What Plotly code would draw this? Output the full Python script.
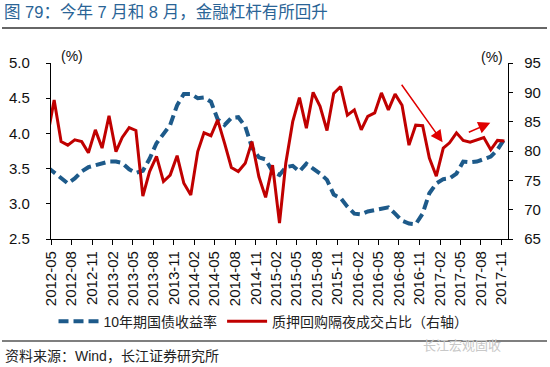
import plotly.graph_objects as go

# Monthly observations (plotted mid-month), 2012-04 .. 2017-11
dates = [f"{y}-{m:02d}-15" for y in range(2012, 2018) for m in range(1, 13)
         if (y, m) >= (2012, 4) and (y, m) <= (2017, 11)]

bond_yield_10y = [3.52, 3.45, 3.37, 3.29, 3.36, 3.46, 3.52, 3.55, 3.57, 3.60,
                  3.60, 3.58, 3.49, 3.44, 3.47, 3.64, 3.86, 4.00, 4.12, 4.40,
                  4.56, 4.56, 4.50, 4.51, 4.45, 4.20, 4.12, 4.22, 4.23, 4.10,
                  3.80, 3.66, 3.63, 3.46, 3.41, 3.52, 3.54, 3.46, 3.57, 3.50,
                  3.43, 3.34, 3.13, 3.08, 2.96, 2.86, 2.85, 2.89, 2.91, 2.94,
                  2.95, 2.86, 2.76, 2.72, 2.71, 2.86, 3.15, 3.29, 3.35, 3.36,
                  3.43, 3.60, 3.59, 3.60, 3.63, 3.67, 3.77, 3.92]

overnight_share = [82.4, 88.7, 81.6, 81.0, 81.9, 81.6, 79.7, 83.6, 80.5, 86.0,
                   79.9, 82.3, 84.0, 83.5, 72.3, 76.5, 79.1, 74.8, 75.9, 79.2,
                   74.5, 72.5, 79.9, 83.1, 82.6, 85.3, 81.3, 77.2, 76.5, 77.9,
                   81.6, 75.6, 72.1, 77.6, 67.7, 77.9, 85.0, 89.1, 83.9, 90.0,
                   87.6, 83.5, 89.8, 91.0, 86.1, 87.0, 83.6, 85.9, 86.5, 89.9,
                   87.0, 89.7, 87.8, 81.0, 84.4, 84.3, 78.8, 75.7, 80.5, 81.4,
                   83.1, 81.8, 81.5, 81.9, 82.3, 80.2, 81.8, 81.7]

series_names = ["10年期国债收益率", "质押回购隔夜成交占比（右轴）"]
left_ticks = [2.5, 3.0, 3.5, 4.0, 4.5, 5.0]
right_ticks = [65, 70, 75, 80, 85, 90, 95]

FONT = "Liberation Sans, Arial, Noto Sans CJK SC, sans-serif"
BLUE = "#1d5a8a"
RED = "#c00000"

fig = go.Figure()
fig.add_trace(go.Scatter(
    x=dates, y=bond_yield_10y, name=series_names[0], mode="lines",
    line=dict(color=BLUE, width=4, dash="10px,5px"), yaxis="y"))
fig.add_trace(go.Scatter(
    x=dates, y=overnight_share, name=series_names[1], mode="lines",
    line=dict(color=RED, width=3), yaxis="y2"))

axis_common = dict(showgrid=False, zeroline=False, showline=True,
                   linecolor="#000000", linewidth=1.3, ticks="outside",
                   tickcolor="#000000", tickwidth=1.3, automargin=False,
                   tickfont=dict(family=FONT, size=15, color="#111111"))

fig.update_layout(
    width=550, height=367,
    margin=dict(l=51, r=42, t=63, b=128, autoexpand=False),
    paper_bgcolor="white", plot_bgcolor="white",
    font=dict(family=FONT, size=14, color="#111111"),
    xaxis=dict(type="date", range=["2012-05-01", "2017-12-01"],
               tick0="2012-05-01", dtick="M3", tickformat="%Y-%m",
               tickangle=-90, ticklen=5, **axis_common),
    yaxis=dict(range=[2.5, 5.0], tickvals=left_ticks, tickformat=".1f",
               ticklen=4, ticklabelstandoff=13, **axis_common),
    yaxis2=dict(range=[65, 95], tickvals=right_ticks, overlaying="y",
                side="right", ticklen=4, ticklabelstandoff=8, **axis_common),
    showlegend=True,
    legend=dict(orientation="h", x=0.465, xanchor="center", y=-0.47,
                yanchor="middle", font=dict(family=FONT, size=14, color="#222222"),
                bgcolor="rgba(0,0,0,0)", itemwidth=40),
)

# Title and decorations
fig.add_annotation(text="图 79：今年 7 月和 8 月，金融杠杆有所回升", xref="paper", yref="paper",
                   x=-49/457, y=1 + (63-12)/176, xanchor="left", yanchor="middle",
                   showarrow=False, font=dict(family=FONT, size=16.5, color="#2a6496"))
fig.add_shape(type="line", xref="paper", yref="paper", x0=-49/457, x1=496/457,
              y0=1 + (63-28)/176, y1=1 + (63-28)/176, line=dict(color="#333333", width=1.5))
fig.add_shape(type="line", xref="paper", yref="paper", x0=-49/457, x1=496/457,
              y0=-(341-239)/176, y1=-(341-239)/176, line=dict(color="#555555", width=1.5))
fig.add_annotation(text="(%)", xref="paper", yref="paper", x=(72-51)/457, y=1 + (63-56)/176,
                   xanchor="center", yanchor="middle", showarrow=False,
                   font=dict(family=FONT, size=14, color="#111111"))
fig.add_annotation(text="(%)", xref="paper", yref="paper", x=(492-51)/457, y=1 + (63-57)/176,
                   xanchor="center", yanchor="middle", showarrow=False,
                   font=dict(family=FONT, size=14, color="#111111"))
fig.add_annotation(text="资料来源：Wind，长江证券研究所", xref="paper", yref="paper",
                   x=-48/457, y=-(356-239)/176, xanchor="left", yanchor="middle",
                   showarrow=False, font=dict(family=FONT, size=14, color="#222222"))
fig.add_annotation(text="长江宏观固收", xref="paper", yref="paper",
                   x=(462-51)/457, y=-(345-239)/176, xanchor="center", yanchor="middle",
                   showarrow=False, font=dict(family=FONT, size=13, color="#c8c8c8"))

# Trend arrows
fig.add_annotation(x="2017-02-12", y=81.5, yref="y2", ax=-42, ay=-59,
                   showarrow=True, arrowhead=2, arrowsize=1.6, arrowwidth=1.5,
                   arrowcolor="#e00000", text="")
fig.add_annotation(x="2017-09-13", y=84.8, yref="y2", ax=-23, ay=10,
                   showarrow=True, arrowhead=2, arrowsize=1.6, arrowwidth=1.5,
                   arrowcolor="#e00000", text="")

fig.write_html("out.html", config={"displayModeBar": False},
               post_script="document.body.style.margin='0';")
